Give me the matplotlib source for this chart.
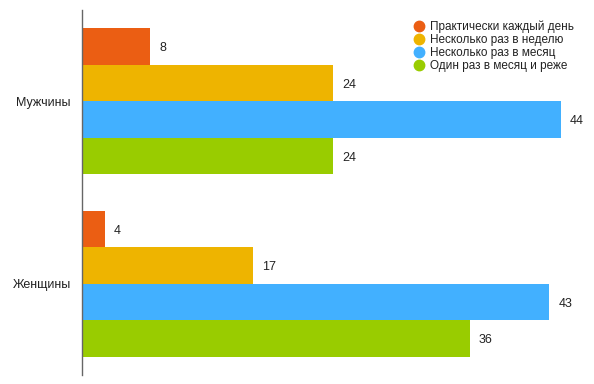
import numpy as np
import matplotlib.pyplot as plt
from matplotlib.lines import Line2D

plt.rcParams['font.family'] = ['Liberation Sans', 'DejaVu Sans']

groups = ["Мужчины", "Женщины"]
series = ["Практически каждый день", "Несколько раз в неделю",
          "Несколько раз в месяц", "Один раз в месяц и реже"]
men = [8, 24, 44, 24]
women = [4, 17, 43, 36]
colors = ["#eb5e13", "#eeb400", "#42b0ff", "#99cc00"]

W, H = 594, 384
fig = plt.figure(figsize=(W / 100, H / 100), dpi=100)
ax = fig.add_axes([82 / W, 1 - 375 / H, 500 / W, 365 / H])

ind = np.arange(len(groups))
h = 0.2
for i, name in enumerate(series):
    vals = [men[i], women[i]]
    y = ind - 0.3 + i * h
    ax.barh(y, vals, height=h, left=0, color=colors[i], label=name)
    for yy, v in zip(y, vals):
        ax.text(v + 0.8, yy + 0.01, str(v), va="center", ha="left",
                fontsize=9, color="#222222")

ax.set_xlim(2, 2 + 500 / 11.4)
ax.set_ylim(1.5, -0.5)
ax.set_yticks(ind)
ax.set_yticklabels(groups, fontsize=9, color="#222222")
ax.tick_params(axis="y", length=0, pad=8)
ax.set_xticks([])
for s in ["top", "right", "bottom"]:
    ax.spines[s].set_visible(False)
ax.spines["left"].set_color("#666666")
ax.spines["left"].set_linewidth(1)

handles = [Line2D([], [], marker="o", linestyle="none", markersize=7.5,
                  markerfacecolor=c, markeredgecolor=c) for c in colors]
fig.legend(handles, series, loc="upper left", bbox_to_anchor=(406 / W, 1 - 15 / H),
           frameon=False, fontsize=8.5, labelspacing=0.08, handletextpad=0.3,
           handlelength=1.2, borderpad=0, labelcolor="#222222")

fig.savefig("out.png", dpi=100)
